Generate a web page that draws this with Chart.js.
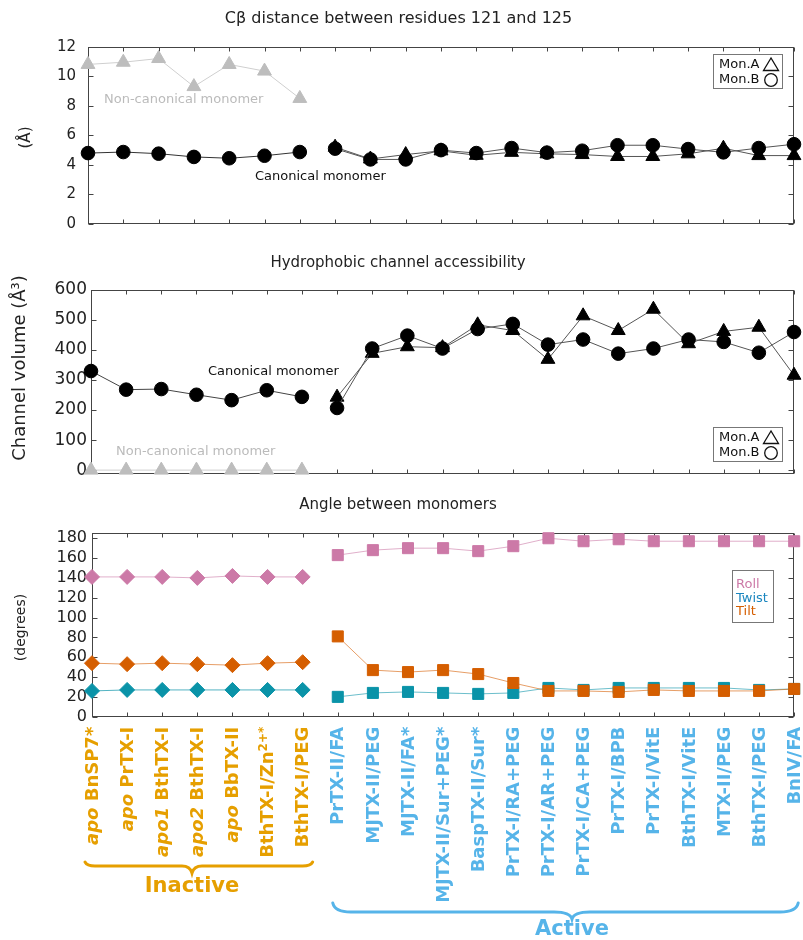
<!DOCTYPE html>
<html>
<head>
<meta charset="utf-8">
<script src="https://cdn.jsdelivr.net/npm/chart.js@4.4.1/dist/chart.umd.min.js"></script>
<style>
  body { margin: 0; background: #fff; }
  #wrap { position: relative; width: 803px; height: 940px; overflow: hidden; }
  .panel { position: absolute; left: 0; }
  canvas { display: block; }
</style>
</head>
<body>
<div id="wrap">
  <div class="panel" style="top:0"><canvas id="dist" width="803" height="245"></canvas></div>
  <div class="panel" style="top:245px"><canvas id="vol" width="803" height="245"></canvas></div>
  <div class="panel" style="top:490px"><canvas id="angle" width="803" height="450"></canvas></div>
</div>
<script>
// structures, first 7 inactive then 14 active
const categories = [
  'apo BnSP7*', 'apo PrTX-I', 'apo1 BthTX-I', 'apo2 BthTX-I', 'apo BbTX-II', 'BthTX-I/Zn²⁺*', 'BthTX-I/PEG',
  'PrTX-II/FA', 'MJTX-II/PEG', 'MJTX-II/FA*', 'MJTX-II/Sur+PEG*', 'BaspTX-II/Sur*', 'PrTX-I/RA+PEG',
  'PrTX-I/AR+PEG', 'PrTX-I/CA+PEG', 'PrTX-I/BPB', 'PrTX-I/VitE', 'BthTX-I/VitE', 'MTX-II/PEG',
  'BthTX-I/PEG', 'BnIV/FA'
];
const inactiveCount = 7;
const groups = ['Inactive', 'Active'];

// Cβ distance between residues 121 and 125 (Å)
const distNonCanonical = [10.8, 10.95, 11.2, 9.3, 10.8, 10.35, 8.5];
const distCanonical = [4.8, 4.87, 4.76, 4.54, 4.45, 4.62, 4.87];
const distMonA = [5.2, 4.4, 4.7, 4.95, 4.65, 4.85, 4.75, 4.7, 4.57, 4.57, 4.75, 5.13, 4.63, 4.63];
const distMonB = [5.1, 4.37, 4.37, 5.0, 4.8, 5.14, 4.83, 4.96, 5.33, 5.33, 5.07, 4.85, 5.14, 5.4];

// hydrophobic channel volume (Å³)
const volNonCanonical = [0, 0, 0, 0, 0, 0, 0];
const volCanonical = [330, 268, 270, 251, 233, 266, 244];
const volMonA = [243, 389, 411, 408, 484, 465, 369, 514, 465, 536, 421, 462, 476, 316];
const volMonB = [207, 405, 448, 405, 470, 487, 418, 435, 388, 405, 435, 427, 391, 460];

// angle between monomers (degrees)
const rollInactive = [141, 141, 141, 140, 142, 141, 141];
const twistInactive = [26, 27, 27, 27, 27, 27, 27];
const tiltInactive = [54, 53, 54, 53, 52, 54, 55];
const rollActive = [163, 168, 170, 170, 167, 172, 180, 177, 179, 177, 177, 177, 177, 177];
const twistActive = [20, 24, 25, 24, 23, 24, 29, 27, 29, 29, 29, 29, 27, 28];
const tiltActive = [81, 47, 45, 47, 43, 34, 26, 26, 25, 27, 26, 26, 26, 28];

const FONT = 'DejaVu Sans';
const ORANGE = '#e69f00';
const SKY = '#56b4e9';
const ROLL = '#cc79a7';
const TWIST = '#0a93a8';
const TILT = '#d55e00';

Chart.defaults.font.family = FONT;
Chart.defaults.color = '#222';

// put a group's values into a full-length array
function pad(values, start) {
  const out = new Array(categories.length).fill(null);
  values.forEach((v, i) => { out[start + i] = v; });
  return out;
}

function series(values, start, style) {
  return Object.assign({
    data: pad(values, start),
    borderWidth: 1,
    tension: 0,
    spanGaps: false,
    clip: false,
    pointBorderWidth: 1
  }, style);
}

// gnuplot style box with inward ticks
const framePlugin = {
  id: 'frame',
  beforeDatasetsDraw(chart) {
    const { ctx, chartArea: a, scales: { x, y } } = chart;
    ctx.save();
    ctx.strokeStyle = '#444';
    ctx.lineWidth = 1;
    const l = Math.round(a.left) + 0.5, r = Math.round(a.right) - 0.5;
    const t = Math.round(a.top) + 0.5, b = Math.round(a.bottom) - 0.5;
    ctx.strokeRect(l, t, r - l, b - t);
    ctx.beginPath();
    y.ticks.forEach(tk => {
      const py = Math.round(y.getPixelForValue(tk.value)) + 0.5;
      ctx.moveTo(l, py); ctx.lineTo(l + 5, py);
      ctx.moveTo(r, py); ctx.lineTo(r - 5, py);
    });
    x.ticks.forEach((tk, i) => {
      const px = Math.round(x.getPixelForTick(i)) + 0.5;
      ctx.moveTo(px, t); ctx.lineTo(px, t + 4);
      ctx.moveTo(px, b); ctx.lineTo(px, b - 4);
    });
    ctx.stroke();
    ctx.restore();
  }
};

function text(ctx, str, x, y, font, color, align, rot) {
  ctx.save();
  ctx.translate(x, y);
  if (rot) ctx.rotate(rot);
  ctx.font = font;
  ctx.fillStyle = color;
  ctx.textAlign = align || 'left';
  ctx.textBaseline = 'middle';
  ctx.fillText(str, 0, 0);
  ctx.restore();
}

function monLegend(ctx, left, top) {
  ctx.save();
  ctx.strokeStyle = '#777';
  ctx.lineWidth = 1;
  ctx.strokeRect(left + 0.5, top + 0.5, 69, 34);
  text(ctx, 'Mon.A', left + 6, top + 10.5, '13px ' + FONT, '#111');
  text(ctx, 'Mon.B', left + 6, top + 26, '13px ' + FONT, '#111');
  ctx.strokeStyle = '#111';
  ctx.lineWidth = 1.3;
  const cx = left + 58;
  ctx.beginPath();
  ctx.moveTo(cx, top + 4);
  ctx.lineTo(cx - 7.5, top + 16.5);
  ctx.lineTo(cx + 7.5, top + 16.5);
  ctx.closePath();
  ctx.stroke();
  ctx.beginPath();
  ctx.arc(cx, top + 26, 6.3, 0, Math.PI * 2);
  ctx.stroke();
  ctx.restore();
}

function baseOptions(cfg) {
  return {
    responsive: false,
    animation: false,
    events: [],
    layout: { padding: { left: 0, right: cfg.right, top: 0, bottom: cfg.bottom } },
    plugins: {
      legend: { display: false },
      tooltip: { enabled: false },
      title: {
        display: true,
        text: cfg.title,
        color: '#222',
        font: { size: cfg.titleSize, weight: 'normal', family: FONT },
        padding: { top: cfg.titleTop, bottom: cfg.titleBottom }
      }
    },
    scales: {
      x: {
        type: 'category',
        offset: false,
        grid: { display: false, drawTicks: false },
        border: { display: false },
        ticks: { display: false, autoSkip: false },
        afterFit: s => { s.height = 0; }
      },
      y: {
        min: cfg.min,
        max: cfg.max,
        grid: { display: false, drawTicks: false },
        border: { display: false },
        ticks: {
          stepSize: cfg.step,
          autoSkip: false,
          maxTicksLimit: 30,
          includeBounds: false,
          padding: cfg.tickPad,
          color: '#222',
          font: { size: cfg.tickSize, family: FONT }
        },
        afterFit: s => { s.width = cfg.axisWidth; }
      }
    }
  };
}

// ---- panel 1: Cβ distance ----
new Chart(document.getElementById('dist'), {
  type: 'line',
  data: {
    labels: categories,
    datasets: [
      series(distCanonical, 0, { borderColor: '#333', pointStyle: 'circle', pointRadius: 6.8, pointBackgroundColor: '#000', pointBorderColor: '#000' }),
      series(distMonB, inactiveCount, { borderColor: '#555', pointStyle: 'circle', pointRadius: 6.8, pointBackgroundColor: '#000', pointBorderColor: '#000' }),
      series(distMonA, inactiveCount, { borderColor: '#555', pointStyle: 'triangle', pointRadius: 8, pointBackgroundColor: '#000', pointBorderColor: '#000' }),
      series(distNonCanonical, 0, { borderColor: '#cfcfcf', pointStyle: 'triangle', pointRadius: 8, pointBackgroundColor: '#bdbdbd', pointBorderColor: '#bdbdbd' })
    ]
  },
  options: baseOptions({
    title: 'Cβ distance between residues 121 and 125', titleSize: 16, titleTop: 9.4, titleBottom: 18.1,
    right: 6, bottom: 16, min: 0, max: 12, step: 2, tickPad: 12, tickSize: 15, axisWidth: 88
  }),
  plugins: [framePlugin, {
    id: 'distNotes',
    afterDraw(chart) {
      const ctx = chart.ctx;
      text(ctx, '(Å)', 25.7, 137.5, '15px ' + FONT, '#222', 'center', -Math.PI / 2);
      text(ctx, 'Non-canonical monomer', 104, 100, '13px ' + FONT, '#bbb');
      text(ctx, 'Canonical monomer', 255, 177, '13px ' + FONT, '#111');
      monLegend(ctx, 713, 54);
    }
  }]
});

// ---- panel 2: channel volume ----
new Chart(document.getElementById('vol'), {
  type: 'line',
  data: {
    labels: categories,
    datasets: [
      series(volCanonical, 0, { borderColor: '#444', pointStyle: 'circle', pointRadius: 6.8, pointBackgroundColor: '#000', pointBorderColor: '#000' }),
      series(volMonB, inactiveCount, { borderColor: '#555', pointStyle: 'circle', pointRadius: 6.8, pointBackgroundColor: '#000', pointBorderColor: '#000' }),
      series(volMonA, inactiveCount, { borderColor: '#555', pointStyle: 'triangle', pointRadius: 8, pointBackgroundColor: '#000', pointBorderColor: '#000' }),
      series(volNonCanonical, 0, { borderColor: '#cfcfcf', pointStyle: 'triangle', pointRadius: 8, pointBackgroundColor: '#bdbdbd', pointBorderColor: '#bdbdbd' })
    ]
  },
  options: baseOptions({
    title: 'Hydrophobic channel accessibility', titleSize: 15, titleTop: 8.7, titleBottom: 18.3,
    right: 7, bottom: 16, min: -13, max: 600, step: 100, tickPad: 4, tickSize: 17, axisWidth: 91
  }),
  plugins: [framePlugin, {
    id: 'volNotes',
    afterDraw(chart) {
      const ctx = chart.ctx;
      text(ctx, 'Channel volume (Å³)', 20, 123, '18px ' + FONT, '#222', 'center', -Math.PI / 2);
      text(ctx, 'Canonical monomer', 208, 127, '13px ' + FONT, '#111');
      text(ctx, 'Non-canonical monomer', 116, 207, '13px ' + FONT, '#bbb');
      monLegend(ctx, 713, 182);
    }
  }]
});

// ---- panel 3: angles ----
function labelParts(label) {
  const parts = [];
  let rest = label;
  const m = rest.match(/^(apo\d?) (.*)$/);
  if (m) { parts.push({ t: m[1] + ' ', italic: true }); rest = m[2]; }
  const s = rest.match(/^(.*?)([²⁺]+)(\*?)$/);
  if (s) {
    parts.push({ t: s[1] });
    parts.push({ t: s[2].replace('²', '2').replace('⁺', '+') + s[3], sup: true });
  } else {
    parts.push({ t: rest });
  }
  return parts;
}

function drawBrace(ctx, x1, x2, xm, y, r, w, d) {
  ctx.beginPath();
  ctx.moveTo(x1, y);
  ctx.quadraticCurveTo(x1 + 2, y + r, x1 + w, y + r);
  ctx.lineTo(xm - w, y + r);
  ctx.quadraticCurveTo(xm - 2, y + r, xm, y + d);
  ctx.quadraticCurveTo(xm + 2, y + r, xm + w, y + r);
  ctx.lineTo(x2 - w, y + r);
  ctx.quadraticCurveTo(x2 - 2, y + r, x2, y);
  ctx.stroke();
}

new Chart(document.getElementById('angle'), {
  type: 'line',
  data: {
    labels: categories,
    datasets: [
      series(tiltInactive, 0, { borderColor: 'rgba(213,94,0,0.6)', pointStyle: 'rectRot', pointRadius: 7.5, pointBackgroundColor: TILT, pointBorderColor: TILT }),
      series(twistInactive, 0, { borderColor: 'rgba(10,147,168,0.7)', pointStyle: 'rectRot', pointRadius: 7.5, pointBackgroundColor: TWIST, pointBorderColor: TWIST }),
      series(rollInactive, 0, { borderColor: 'rgba(204,121,167,0.6)', pointStyle: 'rectRot', pointRadius: 7.5, pointBackgroundColor: ROLL, pointBorderColor: ROLL }),
      series(tiltActive, inactiveCount, { borderColor: 'rgba(213,94,0,0.6)', pointStyle: 'rect', pointRadius: 7.8, pointBackgroundColor: TILT, pointBorderColor: TILT }),
      series(twistActive, inactiveCount, { borderColor: 'rgba(10,147,168,0.6)', pointStyle: 'rect', pointRadius: 7.8, pointBackgroundColor: TWIST, pointBorderColor: TWIST }),
      series(rollActive, inactiveCount, { borderColor: 'rgba(204,121,167,0.6)', pointStyle: 'rect', pointRadius: 7.8, pointBackgroundColor: ROLL, pointBorderColor: ROLL })
    ]
  },
  options: baseOptions({
    title: 'Angle between monomers', titleSize: 15, titleTop: 6, titleBottom: 19.3,
    right: 7, bottom: 223.3, min: 0, max: 185, step: 20, tickPad: 5, tickSize: 16, axisWidth: 92
  }),
  plugins: [framePlugin, {
    id: 'angleNotes',
    afterDraw(chart) {
      const { ctx, chartArea: a, scales: { x } } = chart;
      text(ctx, '(degrees)', 21, 137.5, '14px ' + FONT, '#222', 'center', -Math.PI / 2);

      // legend
      ctx.save();
      ctx.strokeStyle = '#777';
      ctx.lineWidth = 1;
      ctx.strokeRect(732.5, 80.5, 41, 52);
      ctx.restore();
      text(ctx, 'Roll', 736, 95, '13px ' + FONT, ROLL);
      text(ctx, 'Twist', 736, 108.5, '13px ' + FONT, '#1a86bf');
      text(ctx, 'Tilt', 736, 122, '13px ' + FONT, TILT);

      // rotated structure names
      const yEnd = a.bottom + 10;
      categories.forEach((label, i) => {
        const px = x.getPixelForValue(i);
        const parts = labelParts(label);
        const fontOf = p => (p.italic ? 'italic ' : '') + 'bold ' + (p.sup ? 12 : 18) + 'px ' + FONT;
        ctx.save();
        let total = 0;
        parts.forEach(p => { ctx.font = fontOf(p); p.w = ctx.measureText(p.t).width; total += p.w; });
        ctx.translate(px + 1, yEnd);
        ctx.rotate(-Math.PI / 2);
        ctx.fillStyle = i < inactiveCount ? ORANGE : SKY;
        ctx.textBaseline = 'middle';
        ctx.textAlign = 'left';
        let cur = -total;
        parts.forEach(p => {
          ctx.font = fontOf(p);
          ctx.fillText(p.t, cur, p.sup ? -5 : 0);
          cur += p.w;
        });
        ctx.restore();
      });

      // group braces
      ctx.save();
      ctx.lineWidth = 3;
      ctx.lineCap = 'round';
      const x0 = x.getPixelForValue(0), x6 = x.getPixelForValue(inactiveCount - 1);
      const x7 = x.getPixelForValue(inactiveCount), x20 = x.getPixelForValue(categories.length - 1);
      ctx.strokeStyle = ORANGE;
      drawBrace(ctx, x0 - 7, x6 + 10, 192, 372, 4, 10, 11);
      ctx.strokeStyle = SKY;
      drawBrace(ctx, x7 - 5, x20 + 4, 572, 413, 9, 18, 16);
      ctx.restore();
      text(ctx, groups[0], 192, 397, 'bold 21px ' + FONT, ORANGE, 'center');
      text(ctx, groups[1], 572, 440, 'bold 21px ' + FONT, SKY, 'center');
    }
  }]
});
</script>
</body>
</html>
